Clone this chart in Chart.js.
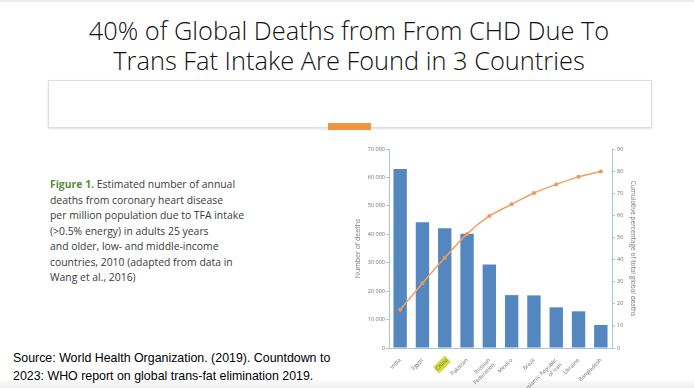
<!DOCTYPE html>
<html>
<head>
<meta charset="utf-8">
<script src="https://cdn.jsdelivr.net/npm/chart.js@4"></script>
<style>
  html, body { margin: 0; padding: 0; }
  body { width: 694px; height: 388px; position: relative; overflow: hidden; background: #fff; }
  .topband { position: absolute; left: 0; top: 0; width: 694px; height: 2px; background: #ececec; }
  .bottomband { position: absolute; left: 0; top: 380px; width: 694px; height: 8px; background: linear-gradient(#fafafa, #efefef); }
  .title { position: absolute; left: 0; width: 698px; text-align: center; font-family: "Open Sans", sans-serif; font-weight: 300; font-size: 25.4px; line-height: 30px; color: #111; white-space: nowrap; }
  .box { position: absolute; left: 48px; top: 80px; width: 602px; height: 46px; border: 1px solid #dedede; box-shadow: 0 1px 2px rgba(0,0,0,0.12); }
  .accent { position: absolute; left: 328px; top: 123px; width: 43px; height: 7px; background: #f0953f; }
  .caption { position: absolute; left: 50px; top: 177px; font-family: "Open Sans", sans-serif; font-size: 10.4px; line-height: 15.5px; color: #3a3a3a; white-space: nowrap; }
  .caption b { color: #5b8c3a; }
  .source { position: absolute; left: 13px; top: 350px; font-family: "Liberation Sans", Arial, sans-serif; font-size: 12.4px; line-height: 17.5px; color: #000; white-space: nowrap; }
  #chartWrap { position: absolute; left: 330px; top: 140px; width: 312px; height: 248px; }
</style>
</head>
<body>
<div class="topband"></div>
<div class="bottomband"></div>
<div class="title" style="top:15px">40% of Global Deaths from From CHD Due To</div>
<div class="title" style="top:45px">Trans Fat Intake Are Found in 3 Countries</div>
<div class="box"></div>
<div class="accent"></div>
<div class="caption">
  <b>Figure 1.</b> Estimated number of annual<br>
  deaths from coronary heart disease<br>
  per million population due to TFA intake<br>
  (&gt;0.5% energy) in adults 25 years<br>
  and older, low- and middle-income<br>
  countries, 2010 (adapted from data in<br>
  Wang et al., 2016)
</div>
<div class="source">
  Source: World Health Organization. (2019). Countdown to<br>
  2023: WHO report on global trans-fat elimination 2019.
</div>
<div id="chartWrap"><canvas id="paretoChart"></canvas></div>

<script>
// ====================
//   chart data
// ====================
const countries = ["India", "Egypt", "China", "Pakistan", ["Russian", "Federation"], "Mexico",
  "Brazil", ["Islamic Republic", "of Iran"], "Ukraine", "Bangladesh"];
const deaths = [63000, 44200, 42100, 40200, 29400, 18600, 18500, 14300, 12900, 8100];
const cumulativePct = [17.3, 29.3, 40.8, 51.6, 59.7, 65.0, 70.1, 74.0, 77.4, 79.8];
const deathsMax = 70000;
const deathsStep = 10000;
const pctMax = 90;
const pctStep = 10;
const highlighted = "China";

const axisBlue = "#a9c6df";
const tickGrey = "#6f6f6f";

// thousands with a space, like "70 000"
const spaced = v => String(v).replace(/\B(?=(\d{3})+(?!\d))/g, " ");

new Chart(document.getElementById("paretoChart"), {
  data: {
    labels: countries,
    datasets: [
      {
        type: "line",
        label: "Cumulative percentage",
        data: cumulativePct,
        yAxisID: "y1",
        borderColor: "#f0a060",
        backgroundColor: "#f0955a",
        borderWidth: 1.5,
        pointRadius: 2,
        pointBorderWidth: 0,
        tension: 0.2,
        order: 0
      },
      {
        type: "bar",
        label: "Number of deaths",
        data: deaths,
        yAxisID: "y",
        backgroundColor: "#5486c0",
        barPercentage: 0.6,
        categoryPercentage: 1,
        order: 1
      }
    ]
  },
  options: {
    responsive: true,
    maintainAspectRatio: false,
    animation: false,
    layout: { padding: { top: 9 } },
    plugins: { legend: { display: false }, tooltip: { enabled: false } },
    scales: {
      x: {
        grid: { display: false },
        border: { color: axisBlue },
        afterFit: s => { s.height = 40; },
        ticks: {
          autoSkip: false,
          maxRotation: 45,
          minRotation: 45,
          padding: 1,
          color: tickGrey,
          font: { family: "Open Sans", size: 5.5 },
          showLabelBackdrop: c => countries[c.index] === highlighted,
          backdropColor: c => countries[c.index] === highlighted ? "#d2dc3a" : "rgba(0,0,0,0)",
          backdropPadding: 1
        }
      },
      y: {
        position: "left",
        min: 0,
        max: deathsMax,
        afterFit: s => { s.width = 59; },
        grid: { drawOnChartArea: false, tickLength: 3, color: axisBlue },
        border: { color: axisBlue },
        ticks: {
          stepSize: deathsStep,
          padding: 1,
          color: tickGrey,
          font: { family: "Open Sans", size: 5.5 },
          callback: v => spaced(v)
        },
        title: {
          display: true,
          text: "Number of deaths",
          color: "#7a7a7a",
          font: { family: "Open Sans", size: 7 },
          padding: { top: 24, bottom: 0 }
        }
      },
      y1: {
        position: "right",
        min: 0,
        max: pctMax,
        afterFit: s => { s.width = 30; },
        grid: { drawOnChartArea: false, tickLength: 3, color: axisBlue },
        border: { color: axisBlue },
        ticks: {
          stepSize: pctStep,
          padding: 2,
          color: tickGrey,
          font: { family: "Open Sans", size: 5.5 }
        },
        title: {
          display: true,
          text: "Cumulative percentage of total global deaths",
          color: "#7a7a7a",
          font: { family: "Open Sans", size: 6.5 },
          padding: { top: 5, bottom: 0 }
        }
      }
    }
  }
});
</script>
</body>
</html>
